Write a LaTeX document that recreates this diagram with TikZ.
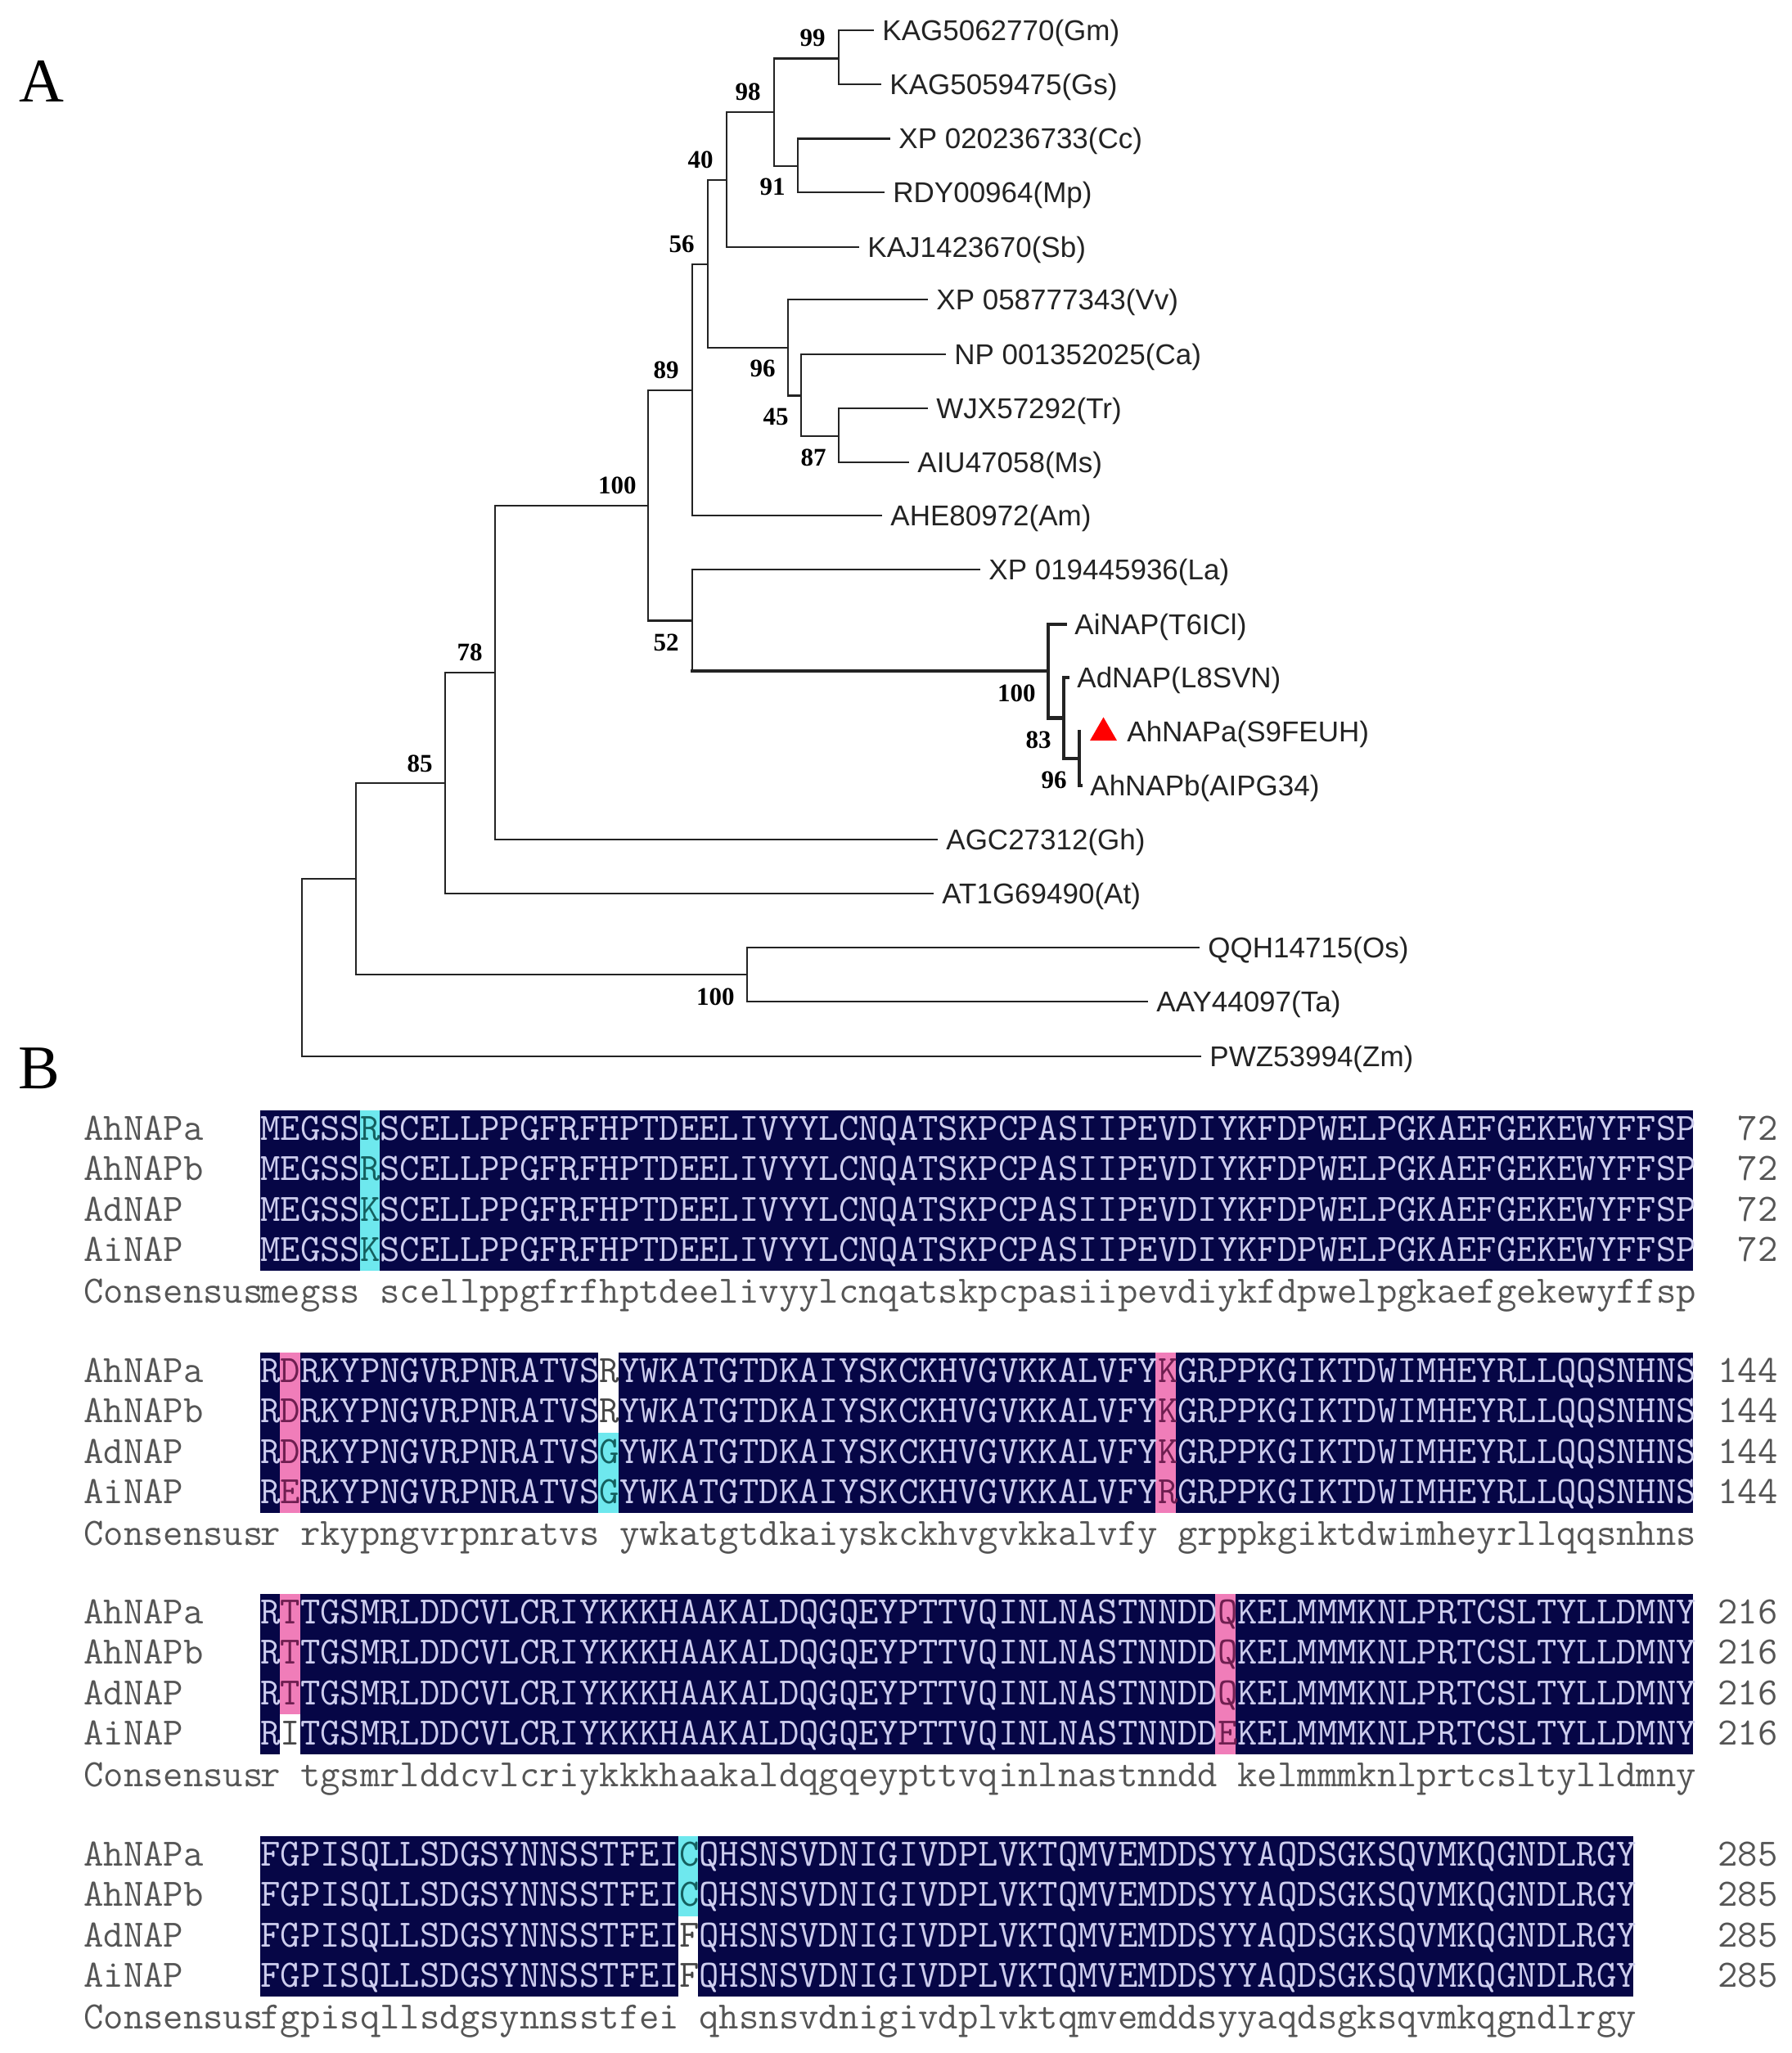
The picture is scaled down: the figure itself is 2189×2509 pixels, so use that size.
\documentclass[tikz,border=0pt]{standalone}
\usepackage{fontspec}
\setmainfont{Liberation Serif}
\newfontfamily\leaffont{Liberation Sans}
\usetikzlibrary{positioning,shapes.geometric}

\definecolor{navy}{RGB}{6,6,70}
\definecolor{hlcyan}{RGB}{110,232,238}
\definecolor{hlpink}{RGB}{240,125,185}
\definecolor{seqlt}{RGB}{205,205,238}
\definecolor{seqcy}{RGB}{20,95,95}
\definecolor{seqpk}{RGB}{110,30,80}
\definecolor{seqwt}{RGB}{70,70,70}
\definecolor{namegray}{RGB}{85,85,85}
\definecolor{inkgray}{RGB}{35,35,35}

\newcommand{\cw}{24.32}
\newcommand{\sqn}[1]{\textcolor{seqlt}{#1}}
\newcommand{\sqc}[1]{\textcolor{seqcy}{#1}}
\newcommand{\sqp}[1]{\textcolor{seqpk}{#1}}
\newcommand{\sqw}[1]{\textcolor{seqwt}{#1}}

\begin{document}
\begin{tikzpicture}[x=0.5pt,y=-0.5pt]
  \tikzset{
    branch/.style={draw=inkgray, line width=1.1pt, line cap=rect},
    clade/.style={branch, line width=2.2pt},
    leaf/.style={anchor=west, inner xsep=5.5pt, inner ysep=0pt, text height=12.5pt, text depth=0pt, text=inkgray, font=\leaffont\fontsize{17.5}{20}\selectfont},
    boot/.style={inner sep=0pt, text=black, font=\bfseries\fontsize{15.5}{18}\selectfont},
    panel/.style={inner sep=0pt, font=\fontsize{38}{40}\selectfont},
    redmark/.style={regular polygon, regular polygon sides=3, fill=red, inner sep=0pt, minimum size=19pt},
    seqtxt/.style={anchor=base west, inner sep=0pt, font=\ttfamily\fontsize{23.66}{26}\selectfont},
    seqname/.style={seqtxt, text=namegray},
    seqnum/.style={seqtxt, anchor=base east, text=namegray}
  }
  \useasboundingbox (0,0) rectangle (2189,2509);

  \node [panel] (pa) at (51,99) {A};
  \node [panel] (pb) at (48,1306) {B};

  % tree: inner nodes
  \coordinate (n99) at (1025,71.5);
  \coordinate (n91) at (975,203);
  \coordinate (n98) at (946,137);
  \coordinate (n40) at (888,220);
  \coordinate (n87) at (1025,533);
  \coordinate (n45) at (979,483.5);
  \coordinate (n96) at (963,425);
  \coordinate (n56) at (865,323);
  \coordinate (n89) at (846,477);
  \coordinate (n52) at (846,758.5);
  \coordinate (n100b) at (792,618);
  \coordinate (nai) at (1281,820);
  \coordinate (n83) at (1300,877.5);
  \coordinate (n96b) at (1319,927);
  \coordinate (ahtip) at (1319,894);
  \coordinate (n78) at (605,822);
  \coordinate (n85) at (544,957);
  \coordinate (nmono) at (913,1191);
  \coordinate (nx) at (435,1074);
  \coordinate (root) at (369,1182);

  % tree: leaves
  \node [leaf] (gm) at (1067,37) {KAG5062770(Gm)};
  \node [leaf] (gs) at (1076,103) {KAG5059475(Gs)};
  \node [leaf] (cc) at (1087,169.5) {XP 020236733(Cc)};
  \node [leaf] (mp) at (1080,235) {RDY00964(Mp)};
  \node [leaf] (sb) at (1049,302) {KAJ1423670(Sb)};
  \node [leaf] (vv) at (1133,366) {XP 058777343(Vv)};
  \node [leaf] (ca) at (1155,433) {NP 001352025(Ca)};
  \node [leaf] (tr) at (1133,499) {WJX57292(Tr)};
  \node [leaf] (ms) at (1110,565) {AIU47058(Ms)};
  \node [leaf] (am) at (1077,630) {AHE80972(Am)};
  \node [leaf] (la) at (1197,696) {XP 019445936(La)};
  \node [leaf] (ai) at (1302,763) {AiNAP(T6ICl)};
  \node [leaf] (ad) at (1305,828) {AdNAP(L8SVN)};
  \node [leaf] (aha) at (1366,894) {AhNAPa(S9FEUH)};
  \node [leaf] (ahb) at (1321,960) {AhNAPb(AIPG34)};
  \node [leaf] (gh) at (1145,1026) {AGC27312(Gh)};
  \node [leaf] (at) at (1140,1092) {AT1G69490(At)};
  \node [leaf] (os) at (1465,1158) {QQH14715(Os)};
  \node [leaf] (ta) at (1402,1224) {AAY44097(Ta)};
  \node [leaf] (zm) at (1467,1291) {PWZ53994(Zm)};
  \node [redmark] (tri) at (1348.5,895.5) {};

  % tree: branches
  \path [branch] (gm.west) -| (n99) |- (gs.west);
  \path [branch] (cc.west) -| (n91) |- (mp.west);
  \path [branch] (n99) -| (n98) |- (n91);
  \path [branch] (n98) -| (n40) |- (sb.west);
  \path [branch] (tr.west) -| (n87) |- (ms.west);
  \path [branch] (ca.west) -| (n45) |- (n87);
  \path [branch] (vv.west) -| (n96) |- (n45);
  \path [branch] (n40) -| (n56) |- (n96);
  \path [branch] (n56) -| (n89) |- (am.west);
  \path [branch] (n89) -| (n100b) |- (n52);
  \path [branch] (la.west) -| (n52) |- (nai);
  \path [clade] (n52 |- nai) -- (nai);
  \path [clade] (ai.west) -| (nai) |- (n83);
  \path [clade] (ad.west) -| (n83) |- (n96b);
  \path [clade] (ahtip) |- (ahb.west);
  \path [branch] (n100b) -| (n78) |- (gh.west);
  \path [branch] (n78) -| (n85) |- (at.west);
  \path [branch] (os.west) -| (nmono) |- (ta.west);
  \path [branch] (n85) -| (nx) |- (nmono);
  \path [branch] (nx) -| (root) |- (zm.west);

  % bootstrap values
  \node [boot, above left=7pt and 8pt of n99] (b99) {99};
  \node [boot, above left=7pt and 8pt of n98] (b98) {98};
  \node [boot, below left=7.5pt and 7.5pt of n91] (b91) {91};
  \node [boot, above left=7pt and 8pt of n40] (b40) {40};
  \node [boot, above left=7pt and 8pt of n56] (b56) {56};
  \node [boot, below left=7.5pt and 7.5pt of n96] (b96) {96};
  \node [boot, below left=7.5pt and 7.5pt of n45] (b45) {45};
  \node [boot, below left=7.5pt and 7.5pt of n87] (b87) {87};
  \node [boot, above left=7pt and 8pt of n89] (b89) {89};
  \node [boot, above left=7pt and 7pt of n100b] (b100b) {100};
  \node [boot, below left=8pt and 8pt of n52] (b52) {52};
  \node [boot, below left=8pt and 7.5pt of nai] (bai) {100};
  \node [boot, below left=8pt and 7.5pt of n83] (b83) {83};
  \node [boot, below left=8pt and 7.5pt of n96b] (b96b) {96};
  \node [boot, above left=7pt and 7.5pt of n78] (b78) {78};
  \node [boot, above left=6.5pt and 7.5pt of n85] (b85) {85};
  \node [boot, below left=8pt and 7.5pt of nmono] (bmono) {100};

  % alignment: shading
  \fill [navy] (318,1357) rectangle ({318+5*\cw},1553);
  \fill [hlcyan] ({318+5*\cw},1357) rectangle ({318+6*\cw},1553);
  \fill [navy] ({318+6*\cw},1357) rectangle ({318+72*\cw},1553);

  \fill [navy] (318,1653) rectangle ({318+1*\cw},1849);
  \fill [hlpink] ({318+1*\cw},1653) rectangle ({318+2*\cw},1849);
  \fill [navy] ({318+2*\cw},1653) rectangle ({318+17*\cw},1849);
  \fill [hlcyan] ({318+17*\cw},1751) rectangle ({318+18*\cw},1849);
  \fill [navy] ({318+18*\cw},1653) rectangle ({318+45*\cw},1849);
  \fill [hlpink] ({318+45*\cw},1653) rectangle ({318+46*\cw},1849);
  \fill [navy] ({318+46*\cw},1653) rectangle ({318+72*\cw},1849);

  \fill [navy] (318,1948) rectangle ({318+1*\cw},2144);
  \fill [hlpink] ({318+1*\cw},1948) rectangle ({318+2*\cw},2095);
  \fill [navy] ({318+2*\cw},1948) rectangle ({318+48*\cw},2144);
  \fill [hlpink] ({318+48*\cw},1948) rectangle ({318+49*\cw},2144);
  \fill [navy] ({318+49*\cw},1948) rectangle ({318+72*\cw},2144);

  \fill [navy] (318,2244) rectangle ({318+21*\cw},2440);
  \fill [hlcyan] ({318+21*\cw},2244) rectangle ({318+22*\cw},2342);
  \fill [navy] ({318+22*\cw},2244) rectangle ({318+69*\cw},2440);

  % alignment: block 1
  \node [seqname] (m1a) at (102,1393) {AhNAPa};
  \node [seqname] (m1b) at (102,1442.5) {AhNAPb};
  \node [seqname] (m1c) at (102,1492) {AdNAP};
  \node [seqname] (m1d) at (102,1541.5) {AiNAP};
  \node [seqname] (m1e) at (102,1592) {Consensus};
  \node [seqtxt] (s1a) at (318,1393) {\sqn{MEGSS}\sqc{R}\sqn{SCELLPPGFRFHPTDEELIVYYLCNQATSKPCPASIIPEVDIYKFDPWELPGKAEFGEKEWYFFSP}};
  \node [seqtxt] (s1b) at (318,1442.5) {\sqn{MEGSS}\sqc{R}\sqn{SCELLPPGFRFHPTDEELIVYYLCNQATSKPCPASIIPEVDIYKFDPWELPGKAEFGEKEWYFFSP}};
  \node [seqtxt] (s1c) at (318,1492) {\sqn{MEGSS}\sqc{K}\sqn{SCELLPPGFRFHPTDEELIVYYLCNQATSKPCPASIIPEVDIYKFDPWELPGKAEFGEKEWYFFSP}};
  \node [seqtxt] (s1d) at (318,1541.5) {\sqn{MEGSS}\sqc{K}\sqn{SCELLPPGFRFHPTDEELIVYYLCNQATSKPCPASIIPEVDIYKFDPWELPGKAEFGEKEWYFFSP}};
  \node [seqname] (s1e) at (318,1592) {megss scellppgfrfhptdeelivyylcnqatskpcpasiipevdiykfdpwelpgkaefgekewyffsp};
  \node [seqnum] (c1a) at (2173,1393) {72};
  \node [seqnum] (c1b) at (2173,1442.5) {72};
  \node [seqnum] (c1c) at (2173,1492) {72};
  \node [seqnum] (c1d) at (2173,1541.5) {72};

  % alignment: block 2
  \node [seqname] (m2a) at (102,1689) {AhNAPa};
  \node [seqname] (m2b) at (102,1738.5) {AhNAPb};
  \node [seqname] (m2c) at (102,1788) {AdNAP};
  \node [seqname] (m2d) at (102,1837.5) {AiNAP};
  \node [seqname] (m2e) at (102,1888) {Consensus};
  \node [seqtxt] (s2a) at (318,1689) {\sqn{R}\sqp{D}\sqn{RKYPNGVRPNRATVS}\sqw{R}\sqn{YWKATGTDKAIYSKCKHVGVKKALVFY}\sqp{K}\sqn{GRPPKGIKTDWIMHEYRLLQQSNHNS}};
  \node [seqtxt] (s2b) at (318,1738.5) {\sqn{R}\sqp{D}\sqn{RKYPNGVRPNRATVS}\sqw{R}\sqn{YWKATGTDKAIYSKCKHVGVKKALVFY}\sqp{K}\sqn{GRPPKGIKTDWIMHEYRLLQQSNHNS}};
  \node [seqtxt] (s2c) at (318,1788) {\sqn{R}\sqp{D}\sqn{RKYPNGVRPNRATVS}\sqc{G}\sqn{YWKATGTDKAIYSKCKHVGVKKALVFY}\sqp{K}\sqn{GRPPKGIKTDWIMHEYRLLQQSNHNS}};
  \node [seqtxt] (s2d) at (318,1837.5) {\sqn{R}\sqp{E}\sqn{RKYPNGVRPNRATVS}\sqc{G}\sqn{YWKATGTDKAIYSKCKHVGVKKALVFY}\sqp{R}\sqn{GRPPKGIKTDWIMHEYRLLQQSNHNS}};
  \node [seqname] (s2e) at (318,1888) {r rkypngvrpnratvs ywkatgtdkaiyskckhvgvkkalvfy grppkgiktdwimheyrllqqsnhns};
  \node [seqnum] (c2a) at (2173,1689) {144};
  \node [seqnum] (c2b) at (2173,1738.5) {144};
  \node [seqnum] (c2c) at (2173,1788) {144};
  \node [seqnum] (c2d) at (2173,1837.5) {144};

  % alignment: block 3
  \node [seqname] (m3a) at (102,1984) {AhNAPa};
  \node [seqname] (m3b) at (102,2033.5) {AhNAPb};
  \node [seqname] (m3c) at (102,2083) {AdNAP};
  \node [seqname] (m3d) at (102,2132.5) {AiNAP};
  \node [seqname] (m3e) at (102,2183) {Consensus};
  \node [seqtxt] (s3a) at (318,1984) {\sqn{R}\sqp{T}\sqn{TGSMRLDDCVLCRIYKKKHAAKALDQGQEYPTTVQINLNASTNNDD}\sqp{Q}\sqn{KELMMMKNLPRTCSLTYLLDMNY}};
  \node [seqtxt] (s3b) at (318,2033.5) {\sqn{R}\sqp{T}\sqn{TGSMRLDDCVLCRIYKKKHAAKALDQGQEYPTTVQINLNASTNNDD}\sqp{Q}\sqn{KELMMMKNLPRTCSLTYLLDMNY}};
  \node [seqtxt] (s3c) at (318,2083) {\sqn{R}\sqp{T}\sqn{TGSMRLDDCVLCRIYKKKHAAKALDQGQEYPTTVQINLNASTNNDD}\sqp{Q}\sqn{KELMMMKNLPRTCSLTYLLDMNY}};
  \node [seqtxt] (s3d) at (318,2132.5) {\sqn{R}\sqw{I}\sqn{TGSMRLDDCVLCRIYKKKHAAKALDQGQEYPTTVQINLNASTNNDD}\sqp{E}\sqn{KELMMMKNLPRTCSLTYLLDMNY}};
  \node [seqname] (s3e) at (318,2183) {r tgsmrlddcvlcriykkkhaakaldqgqeypttvqinlnastnndd kelmmmknlprtcsltylldmny};
  \node [seqnum] (c3a) at (2173,1984) {216};
  \node [seqnum] (c3b) at (2173,2033.5) {216};
  \node [seqnum] (c3c) at (2173,2083) {216};
  \node [seqnum] (c3d) at (2173,2132.5) {216};

  % alignment: block 4
  \node [seqname] (m4a) at (102,2280) {AhNAPa};
  \node [seqname] (m4b) at (102,2329.5) {AhNAPb};
  \node [seqname] (m4c) at (102,2379) {AdNAP};
  \node [seqname] (m4d) at (102,2428.5) {AiNAP};
  \node [seqname] (m4e) at (102,2479) {Consensus};
  \node [seqtxt] (s4a) at (318,2280) {\sqn{FGPISQLLSDGSYNNSSTFEI}\sqc{C}\sqn{QHSNSVDNIGIVDPLVKTQMVEMDDSYYAQDSGKSQVMKQGNDLRGY}};
  \node [seqtxt] (s4b) at (318,2329.5) {\sqn{FGPISQLLSDGSYNNSSTFEI}\sqc{C}\sqn{QHSNSVDNIGIVDPLVKTQMVEMDDSYYAQDSGKSQVMKQGNDLRGY}};
  \node [seqtxt] (s4c) at (318,2379) {\sqn{FGPISQLLSDGSYNNSSTFEI}\sqw{F}\sqn{QHSNSVDNIGIVDPLVKTQMVEMDDSYYAQDSGKSQVMKQGNDLRGY}};
  \node [seqtxt] (s4d) at (318,2428.5) {\sqn{FGPISQLLSDGSYNNSSTFEI}\sqw{F}\sqn{QHSNSVDNIGIVDPLVKTQMVEMDDSYYAQDSGKSQVMKQGNDLRGY}};
  \node [seqname] (s4e) at (318,2479) {fgpisqllsdgsynnsstfei qhsnsvdnigivdplvktqmvemddsyyaqdsgksqvmkqgndlrgy};
  \node [seqnum] (c4a) at (2173,2280) {285};
  \node [seqnum] (c4b) at (2173,2329.5) {285};
  \node [seqnum] (c4c) at (2173,2379) {285};
  \node [seqnum] (c4d) at (2173,2428.5) {285};
\end{tikzpicture}
\end{document}
